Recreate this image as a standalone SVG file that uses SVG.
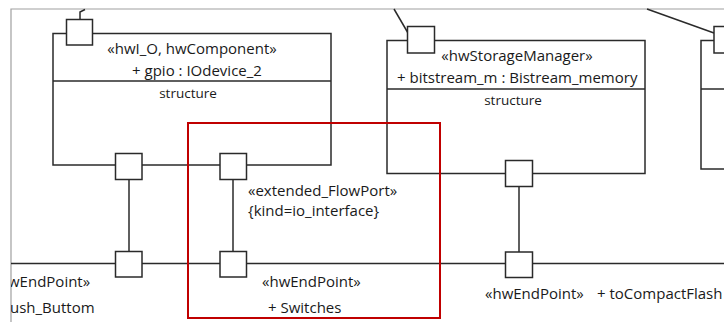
<svg xmlns="http://www.w3.org/2000/svg" width="724" height="322" viewBox="0 0 724 322">
<style>
.frame{fill:none;stroke:#a0a0a0;stroke-width:1.2}
.box{fill:#fff;stroke:#2a2a2a;stroke-width:1.5}
.ln{fill:none;stroke:#2a2a2a;stroke-width:1.5}
.port{fill:#fff;stroke:#2a2a2a;stroke-width:1.5}
.t{font-family:"Open Sans","Noto Sans",sans-serif;font-size:15px;fill:#1a1a1a}
.s{font-family:"Open Sans","Noto Sans",sans-serif;font-size:13.5px;fill:#1a1a1a}
.hl{fill:none;stroke:#c00000;stroke-width:2}
</style>
<defs>
<clipPath id="clipL"><rect x="11" y="0" width="713" height="322"/></clipPath>
</defs>
<rect width="724" height="322" fill="#fff"/>
<g id="frame">
<path class="frame" d="M11,322 V9 H724"/>
</g>
<g id="connectors">
<line class="ln" x1="11" y1="263.5" x2="724" y2="263.5"/>
<line class="ln" x1="129" y1="179" x2="129" y2="252"/>
<line class="ln" x1="233" y1="179" x2="233" y2="252"/>
<line class="ln" x1="519" y1="187" x2="519" y2="252"/>
<path class="ln" d="M80,19 V12 L85,9.5"/>
<line class="ln" x1="394" y1="9" x2="408" y2="33"/>
<line class="ln" x1="647" y1="9" x2="714" y2="33"/>
</g>
<g id="hwIO">
<rect class="box" x="53" y="33.5" width="278" height="131.5"/>
<line class="ln" x1="53" y1="81" x2="331" y2="81"/>
<rect class="port" x="66.5" y="19.5" width="26" height="25.5"/>
<text class="t" x="192" y="54" text-anchor="middle">«hwI_O, hwComponent»</text>
<text class="t" x="197" y="76" text-anchor="middle">+ gpio : IOdevice_2</text>
<text class="s" x="188" y="98" text-anchor="middle">structure</text>
</g>
<g id="portA"><rect class="port" x="115.5" y="153.5" width="26.5" height="26"/></g>
<g id="portB"><rect class="port" x="220" y="153.5" width="26.5" height="26"/></g>
<g id="hwStorage">
<rect class="box" x="387" y="40.5" width="258" height="133"/>
<line class="ln" x1="387" y1="89" x2="645" y2="89"/>
<rect class="port" x="407.5" y="26.5" width="27" height="26.5"/>
<text class="t" x="517" y="61" text-anchor="middle">«hwStorageManager»</text>
<text class="t" x="397" y="82.5">+ bitstream_m : Bistream_memory</text>
<text class="s" x="513" y="104.5" text-anchor="middle">structure</text>
</g>
<g id="portC"><rect class="port" x="505.5" y="160.5" width="27" height="26"/></g>
<g id="box3">
<rect class="box" x="701" y="40.5" width="30" height="128.5"/>
<line class="ln" x1="701" y1="89" x2="724" y2="89"/>
<rect class="port" x="714" y="26.5" width="27" height="26.5"/>
</g>
<g id="epA"><rect class="port" x="115.5" y="251.5" width="26.5" height="25.5"/></g>
<g id="epB"><rect class="port" x="220" y="251.5" width="26.5" height="25.5"/></g>
<g id="epC"><rect class="port" x="505.5" y="252" width="27" height="25.5"/></g>
<g id="labels">
<text class="t" x="248" y="196">«extended_FlowPort»</text>
<text class="t" x="248" y="216">{kind=io_interface}</text>
<text class="t" x="262" y="287">«hwEndPoint»</text>
<text class="t" x="268" y="313">+ Switches</text>
<g clip-path="url(#clipL)">
<text class="t" x="8" y="287">wEndPoint»</text>
<text class="t" x="10" y="313">ush_Buttom</text>
</g>
<text class="t" x="485" y="299">«hwEndPoint»</text>
<text class="t" x="597" y="299">+ toCompactFlash</text>
</g>
<g id="highlight"><rect class="hl" x="188" y="123" width="252" height="195"/></g>
</svg>
